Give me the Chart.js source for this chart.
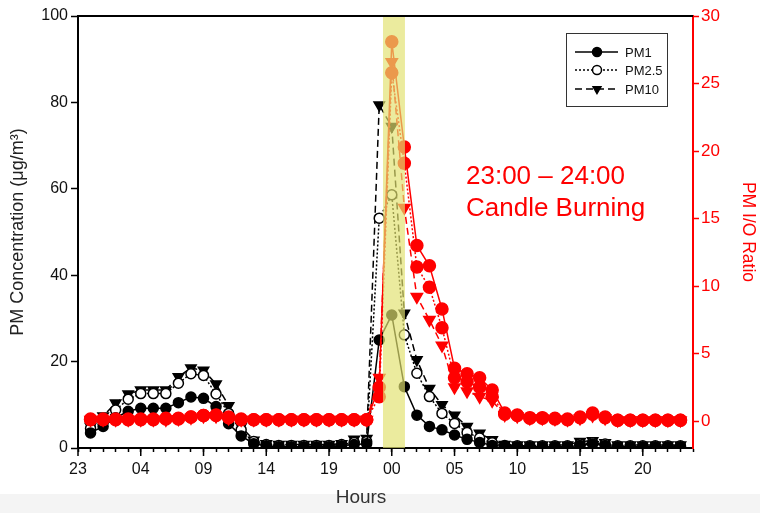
<html>
<head>
    <title>PM candle</title>
    <script src="https://cdn.jsdelivr.net/npm/chart.js"></script>
</head>
<style>
    body{ margin:0; background:#fff; }
</style>
<body>
<canvas id="chartCanvas" width="760" height="513" style="display:block;width:760px;height:513px;"></canvas>
</body>

<script>
// hours since 23:00 of day one
const hours = [1,2,3,4,5,6,7,8,9,10,11,12,13,14,15,16,17,18,19,20,21,22,23,24,
               25,26,27,28,29,30,31,32,33,34,35,36,37,38,39,40,41,42,43,44,45,46,47,48];
const xTickLabels = ['23','04','09','14','19','00','05','10','15','20'];

// PM concentration (ug/m3), left axis
const pm1  = [3.5,5,7,8.5,9.2,9.2,9.2,10.5,11.8,11.5, 9.6,5.6,2.8,1.0,0.5,0.3,0.3,0.3,0.3,0.3, 0.5,0.8,1.0,
              25,30.8,14.2,7.6,5.0,4.2,3.0,2.0,1.3,0.6, 0.4,0.3,0.3,0.3,0.3,0.3,0.6,0.9,0.6, 0.3,0.3,0.3,0.3,0.3,0.3];
const pm25 = [4.5,6,8.8,11.3,12.6,12.6,12.6,15,17.2,16.8, 12.5,8,4.2,1.5,0.8,0.6,0.6,0.6,0.6,0.6, 0.8,1.3,1.5,
              53.2,58.6,26.2,17.3,11.9,8.0,5.7,3.6,2.3,1.2, 0.6,0.5,0.5,0.5,0.5,0.5,0.9,1.2,0.9, 0.5,0.5,0.5,0.5,0.5,0.5];
const pm10 = [5,7.4,10.4,12.5,13.4,13.4,13.4,16.5,18.5,18, 14.8,9.8,5,1.8,1,0.8,0.8,0.8,0.8,0.8, 1,2,2.2,
              79.4,74.4,31.2,20.4,13.8,10,7.6,5,3.4,1.9, 0.8,0.7,0.7,0.7,0.7,0.7,1.5,1.7,1.2, 0.7,0.7,0.7,0.7,0.7,0.7];

// I/O ratio, right axis
const ioPm1  = [0.15,0.15,0.15,0.15,0.15,0.15,0.2,0.2,0.3,0.4, 0.45,0.3,0.15,0.1,0.1,0.1,0.1,0.1,0.1,0.1, 0.1,0.1,0.1,
                2.5,28.1,20.3,13.0,11.5,8.3,3.9,3.5,3.2,2.3, 0.6,0.45,0.25,0.25,0.2,0.15,0.3,0.6,0.3, 0.05,0.05,0.05,0.05,0.05,0.05];
const ioPm25 = [0.1,0.1,0.1,0.1,0.1,0.1,0.15,0.15,0.3,0.4, 0.4,0.25,0.1,0.1,0.1,0.1,0.1,0.1,0.1,0.1, 0.1,0.1,0.1,
                1.8,25.8,19.1,11.4,9.9,6.9,3.2,2.9,2.5,1.8, 0.5,0.4,0.2,0.2,0.15,0.1,0.25,0.5,0.25, 0.05,0.05,0.05,0.05,0.05,0.05];
const ioPm10 = [0.1,0.1,0.1,0.1,0.1,0.1,0.1,0.15,0.25,0.35, 0.35,0.2,0.1,0.1,0.1,0.1,0.1,0.1,0.1,0.1, 0.1,0.1,0.1,
                3.2,26.6,15.8,9.2,7.5,5.6,2.5,2.2,1.8,1.5, 0.45,0.35,0.2,0.2,0.15,0.1,0.2,0.4,0.2, 0.05,0.05,0.05,0.05,0.05,0.05];

const candleStart = 24.3;
const candleEnd = 26.05;

const FONT = '"Liberation Sans", Arial, sans-serif';
const RED = '#ff0000';

function pts(arr) {
    return hours.map((h, i) => ({ x: h, y: arr[i] }));
}

function series(label, arr, axis, color, opts) {
    return Object.assign({
        label: label,
        data: pts(arr),
        yAxisID: axis,
        borderColor: color,
        pointBorderColor: color,
        pointBackgroundColor: color,
        borderWidth: 1.5,
        pointBorderWidth: 1.5,
        tension: 0
    }, opts);
}

// yellow band for the candle burning hour, drawn over the data
const bandPlugin = {
    id: 'band',
    afterDatasetsDraw(chart) {
        const x = chart.scales.x, a = chart.chartArea, ctx = chart.ctx;
        const x0 = x.getPixelForValue(candleStart), x1 = x.getPixelForValue(candleEnd);
        ctx.save();
        ctx.fillStyle = 'rgba(226,226,112,0.68)';
        ctx.fillRect(x0, a.top, x1 - x0, a.bottom - a.top);
        ctx.restore();
    }
};

const decoPlugin = {
    id: 'deco',
    beforeDraw(chart) {
        const ctx = chart.ctx;
        ctx.save();
        ctx.fillStyle = '#fff';
        ctx.fillRect(0, 0, chart.width, chart.height);
        ctx.fillStyle = '#f4f4f4';
        ctx.fillRect(0, 494, chart.width, chart.height - 494);
        ctx.restore();
    },
    afterDraw(chart) {
        const ctx = chart.ctx, a = chart.chartArea, x = chart.scales.x;
        ctx.save();
        // top frame line
        ctx.strokeStyle = '#000';
        ctx.lineWidth = 2;
        ctx.beginPath();
        ctx.moveTo(a.left, a.top);
        ctx.lineTo(a.right, a.top);
        ctx.stroke();
        // longer major ticks
        ctx.lineWidth = 1.5;
        for (let v = 0; v <= 45; v += 5) {
            const px = x.getPixelForValue(v);
            ctx.beginPath();
            ctx.moveTo(px, a.bottom);
            ctx.lineTo(px, a.bottom + 8);
            ctx.stroke();
        }
        // x title
        ctx.fillStyle = '#333';
        ctx.font = '19px ' + FONT;
        ctx.textAlign = 'center';
        ctx.textBaseline = 'middle';
        ctx.fillText('Hours', 361, 498);

        // annotation
        ctx.save();
        ctx.beginPath();
        ctx.rect(0, 0, 645, chart.height);
        ctx.clip();
        ctx.fillStyle = RED;
        ctx.font = '26px ' + FONT;
        ctx.textAlign = 'left';
        ctx.textBaseline = 'alphabetic';
        ctx.fillText('23:00 \u2013 24:00', 466, 184);
        ctx.fillText('Candle Burning', 466, 216);
        ctx.restore();

        // legend box
        const bx = 566, by = 33, bw = 101, bh = 73;
        ctx.strokeStyle = '#333';
        ctx.lineWidth = 1;
        ctx.strokeRect(bx + 0.5, by + 0.5, bw, bh);
        const rows = [52, 70, 89];
        ctx.font = '13px ' + FONT;
        ctx.textAlign = 'left';
        ctx.textBaseline = 'middle';
        for (let i = 0; i < 3; i++) {
            const ds = chart.data.datasets[3 + i];
            const y = rows[i];
            ctx.strokeStyle = '#000';
            ctx.lineWidth = 1.5;
            ctx.setLineDash(ds.borderDash || []);
            ctx.beginPath();
            ctx.moveTo(575, y);
            ctx.lineTo(618, y);
            ctx.stroke();
            ctx.setLineDash([]);
            ctx.fillStyle = ds.pointBackgroundColor;
            ctx.strokeStyle = ds.pointBorderColor;
            Chart.helpers.drawPoint(ctx, {
                pointStyle: ds.pointStyle, radius: 4.5, rotation: ds.pointRotation || 0, borderWidth: 1.5
            }, 597, y);
            ctx.fillStyle = '#111';
            ctx.fillText(ds.label, 625, y + 1);
        }
        ctx.restore();
    }
};

new Chart(document.getElementById('chartCanvas'), {
    type: 'line',
    data: {
        datasets: [
            series('PM1 I/O', ioPm1, 'y1', RED, { pointStyle: 'circle', pointRadius: 6, order: 1 }),
            series('PM2.5 I/O', ioPm25, 'y1', RED, { pointStyle: 'circle', pointRadius: 6, borderDash: [2, 2], order: 1 }),
            series('PM10 I/O', ioPm10, 'y1', RED, { pointStyle: 'triangle', pointRotation: 180, pointRadius: 6.5, borderDash: [7, 4], order: 1 }),
            series('PM1', pm1, 'y', '#000', { pointStyle: 'circle', pointRadius: 5, order: 2 }),
            series('PM2.5', pm25, 'y', '#000', { pointStyle: 'circle', pointRadius: 5, pointBackgroundColor: '#fff', borderDash: [2, 2], order: 2 }),
            series('PM10', pm10, 'y', '#000', { pointStyle: 'triangle', pointRotation: 180, pointRadius: 6, borderDash: [7, 4], order: 2 })
        ]
    },
    options: {
        responsive: false,
        animation: false,
        devicePixelRatio: 1,
        layout: { padding: { top: 16, left: 0, right: 0, bottom: 0 } },
        plugins: { legend: { display: false }, tooltip: { enabled: false } },
        scales: {
            x: {
                type: 'linear',
                min: 0,
                max: 49,
                afterFit(s) { s.height = 65; },
                ticks: {
                    stepSize: 1,
                    autoSkip: false,
                    maxRotation: 0,
                    padding: 8,
                    color: '#111',
                    font: { family: FONT, size: 16 },
                    callback: v => (v % 5 === 0 ? xTickLabels[v / 5] : '')
                },
                grid: { drawOnChartArea: false, tickLength: 4, tickWidth: 1.5, tickColor: '#000' },
                border: { color: '#000', width: 2 }
            },
            y: {
                position: 'left',
                min: 0,
                max: 100,
                afterFit(s) { s.width = 78; },
                ticks: { stepSize: 20, padding: 3, color: '#111', font: { family: FONT, size: 16 } },
                grid: { drawOnChartArea: false, tickLength: 7, tickWidth: 1.5, tickColor: '#000' },
                border: { color: '#000', width: 2 },
                title: {
                    display: true,
                    text: 'PM Concentration (\u03bcg/m\u00b3)',
                    color: '#222',
                    font: { family: FONT, size: 18 },
                    padding: { top: 7, bottom: 0 }
                }
            },
            y1: {
                position: 'right',
                min: -2,
                max: 30,
                afterFit(s) { s.width = 67; },
                afterBuildTicks(s) { s.ticks = s.ticks.filter(t => t.value >= 0 && t.value % 5 === 0); },
                ticks: { stepSize: 5, padding: 2, color: RED, font: { family: FONT, size: 17 } },
                grid: { drawOnChartArea: false, tickLength: 6, tickWidth: 1.5, tickColor: RED },
                border: { color: RED, width: 2 },
                title: {
                    display: true,
                    text: 'PM I/O Ratio',
                    color: RED,
                    font: { family: FONT, size: 17.5 },
                    padding: { top: 2, bottom: 0 }
                }
            }
        }
    },
    plugins: [bandPlugin, decoPlugin]
});
</script>
</html>
